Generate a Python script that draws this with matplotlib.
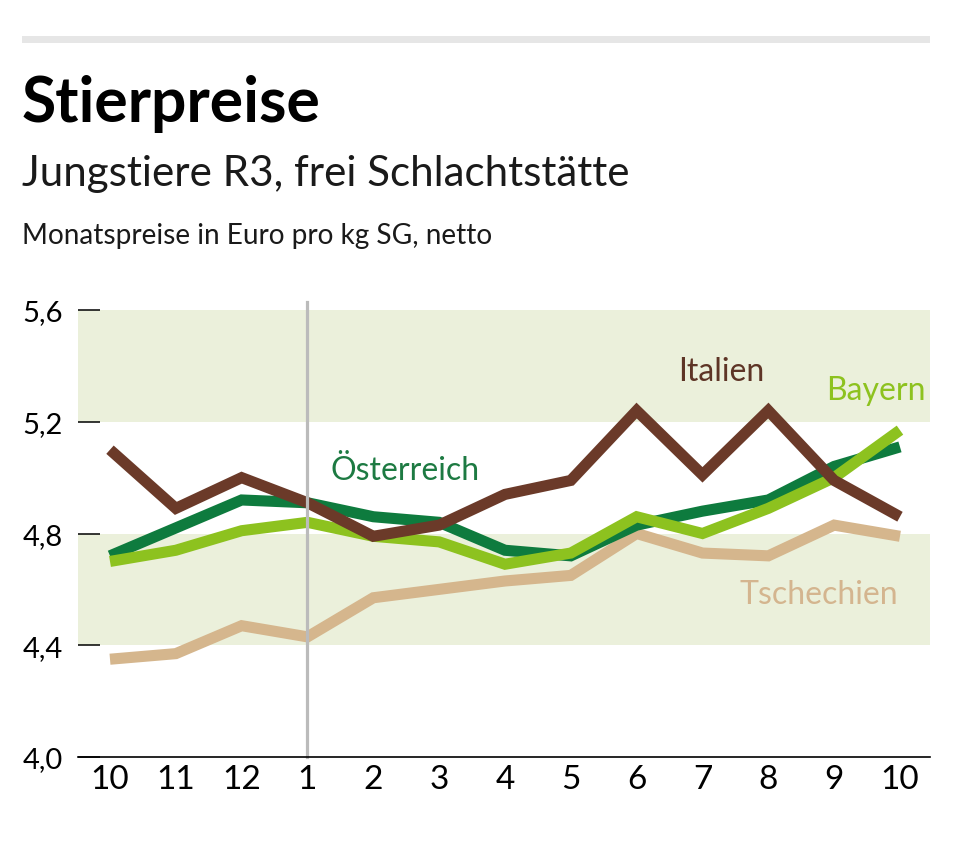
import matplotlib.pyplot as plt
from matplotlib.patches import Rectangle

plt.rcParams['font.family'] = ['Lato', 'DejaVu Sans']

# months Oct (prev year) .. Oct
months = ["10", "11", "12", "1", "2", "3", "4", "5", "6", "7", "8", "9", "10"]

italien = [5.10, 4.89, 5.00, 4.91, 4.79, 4.83, 4.94, 4.99, 5.24, 5.01, 5.24, 4.99, 4.86]
oesterreich = [4.72, 4.82, 4.92, 4.91, 4.86, 4.84, 4.74, 4.72, 4.83, 4.88, 4.92, 5.04, 5.11]
bayern = [4.70, 4.74, 4.81, 4.84, 4.79, 4.77, 4.69, 4.73, 4.86, 4.80, 4.89, 5.00, 5.17]
tschechien = [4.35, 4.37, 4.47, 4.43, 4.57, 4.60, 4.63, 4.65, 4.80, 4.73, 4.72, 4.83, 4.79]

y_ticks = [4.0, 4.4, 4.8, 5.2, 5.6]
y_labels = ["4,0", "4,4", "4,8", "5,2", "5,6"]

W, H = 964, 845
fig = plt.figure(figsize=(W / 100, H / 100), dpi=100)
fig.patch.set_facecolor("white")

# grey rule at the top
fig.add_artist(Rectangle((22 / W, 1 - 44 / H), (930 - 22) / W, 7 / H,
                         transform=fig.transFigure, color="#e6e6e6", lw=0))

fig.text(22 / W, 1 - 122 / H, "Stierpreise", fontsize=45, fontweight="bold",
         color="#000000", va="baseline")
fig.text(22 / W, 1 - 186 / H, "Jungstiere R3, frei Schlachtstätte", fontsize=30.3,
         fontweight="normal", color="#1a1a1a", va="baseline")
fig.text(22 / W, 1 - 244 / H, "Monatspreise in Euro pro kg SG, netto", fontsize=20.2,
         fontweight="normal", color="#1a1a1a", va="baseline")

ax = fig.add_axes([78 / W, 1 - 758 / H, 852 / W, 447 / H])
x = list(range(len(months)))
ax.set_xlim(-0.486, 12.456)
ax.set_ylim(4.0, 5.6)

ax.axhspan(4.4, 4.8, color="#ebf0db", lw=0, zorder=0)
ax.axhspan(5.2, 5.6, color="#ebf0db", lw=0, zorder=0)

kw = dict(lw=8, solid_joinstyle="miter", solid_capstyle="butt")
ax.plot(x, tschechien, color="#d5b68d", zorder=2, **kw)
ax.plot(x, oesterreich, color="#0e7b3e", zorder=3, **kw)
ax.plot(x, bayern, color="#8dc21f", zorder=4, **kw)
ax.plot(x, italien, color="#6b3a29", zorder=5, **kw)

# divider at January
ax.plot([3, 3], [4.0, 5.63], color="#bbbbbb", lw=2.3, zorder=6, clip_on=False)

lab = dict(fontsize=23, ha="center", va="baseline", zorder=7)
ax.text(4.48, 4.995, "Österreich", color="#1d7a42", **lab)
ax.text(9.28, 5.349, "Italien", color="#5e3526", **lab)
ax.text(11.64, 5.281, "Bayern", color="#8dc21f", **lab)
ax.text(10.77, 4.551, "Tschechien", color="#d4b58f", **lab)

ax.set_xticks(x)
ax.set_xticklabels(months, fontsize=24)
ax.set_yticks(y_ticks)
ax.set_yticklabels(y_labels, fontsize=21)
ax.tick_params(axis="x", length=0, pad=5)
ax.tick_params(axis="y", direction="in", length=16, width=1.1, color="black", pad=11)

for s in ["top", "right", "left"]:
    ax.spines[s].set_visible(False)
ax.spines["bottom"].set_linewidth(1.2)
ax.spines["bottom"].set_zorder(8)

fig.savefig("out.png", dpi=100)
